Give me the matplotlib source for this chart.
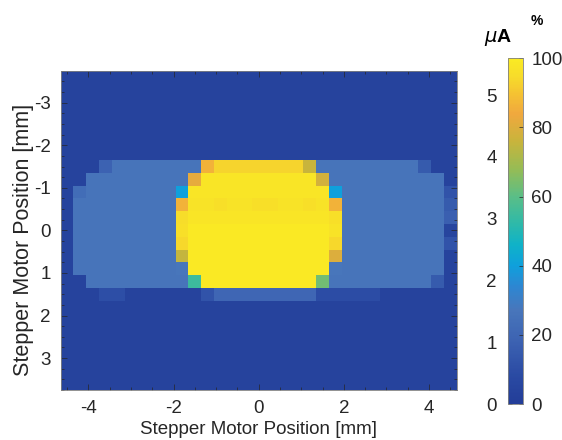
import numpy as np
import matplotlib.pyplot as plt
from matplotlib.colors import LinearSegmentedColormap
from matplotlib.ticker import MultipleLocator

plt.rcParams['font.family'] = ['Liberation Sans', 'DejaVu Sans']
plt.rcParams['axes.unicode_minus'] = False

# stepper motor positions of the pixel centres [mm]
x_pos = [-4.5, -4.2, -3.9, -3.6, -3.3, -3.0, -2.7, -2.4, -2.1, -1.8, -1.5, -1.2, -0.9, -0.6, -0.3, 0.0,
         0.3, 0.6, 0.9, 1.2, 1.5, 1.8, 2.1, 2.4, 2.7, 3.0, 3.3, 3.6, 3.9, 4.2, 4.5]
y_pos = [-3.6, -3.3, -3.0, -2.7, -2.4, -2.1, -1.8, -1.5, -1.2, -0.9, -0.6, -0.3, 0.0,
         0.3, 0.6, 0.9, 1.2, 1.5, 1.8, 2.1, 2.4, 2.7, 3.0, 3.3, 3.6]

# normalised photocurrent per position [%], one row per y position
signal = [
    [4, 4, 4, 4, 4, 4, 4, 4, 4, 4, 4, 4, 4, 4, 4, 4, 4, 4, 4, 4, 4, 4, 4, 4, 4, 4, 4, 4, 4, 4, 4],
    [4, 4, 4, 4, 4, 4, 4, 4, 4, 4, 4, 4, 4, 4, 4, 4, 4, 4, 4, 4, 4, 4, 4, 4, 4, 4, 4, 4, 4, 4, 4],
    [4, 4, 4, 4, 4, 4, 4, 4, 4, 4, 4, 4, 4, 4, 4, 4, 4, 4, 4, 4, 4, 4, 4, 4, 4, 4, 4, 4, 4, 4, 4],
    [4, 4, 4, 4, 4, 4, 4, 4, 4, 4, 4, 4, 4, 4, 4, 4, 4, 4, 4, 4, 4, 4, 4, 4, 4, 4, 4, 4, 4, 4, 4],
    [4, 4, 4, 4, 4, 4, 4, 4, 4, 4, 4, 4, 4, 4, 4, 4, 4, 4, 4, 4, 4, 4, 4, 4, 4, 4, 4, 4, 4, 4, 4],
    [4, 4, 4, 4, 4, 4, 4, 4, 4, 4, 4, 4, 4, 4, 4, 4, 4, 4, 4, 4, 4, 4, 4, 4, 4, 4, 4, 4, 4, 4, 4],
    [4, 4, 4, 4, 4, 4, 4, 4, 4, 4, 4, 4, 4, 4, 4, 4, 4, 4, 4, 4, 4, 4, 4, 4, 4, 4, 4, 4, 4, 4, 4],
    [4, 4, 4, 18, 26, 26, 26, 26, 26, 26, 26, 86, 93, 93, 93, 93, 93, 93, 93, 76, 26, 26, 26, 26, 26, 26, 26, 26, 15, 4, 4],
    [4, 4, 26, 26, 26, 26, 26, 26, 26, 26, 82, 98, 98, 98, 98, 98, 98, 98, 98, 98, 78, 26, 26, 26, 26, 26, 26, 26, 26, 26, 4],
    [4, 23, 26, 26, 26, 26, 26, 26, 26, 40, 98, 98, 98, 98, 98, 98, 98, 98, 98, 98, 98, 40, 26, 26, 26, 26, 26, 26, 26, 26, 12],
    [4, 26, 26, 26, 26, 26, 26, 26, 26, 86, 97, 97, 96, 97, 97, 96, 96, 97, 97, 96, 97, 86, 26, 26, 26, 26, 26, 26, 26, 26, 15],
    [4, 26, 26, 26, 26, 26, 26, 26, 26, 95, 98, 98, 98, 98, 98, 98, 98, 98, 98, 98, 98, 96, 26, 26, 26, 26, 26, 26, 26, 26, 17],
    [4, 26, 26, 26, 26, 26, 26, 26, 26, 96, 99, 99, 99, 99, 99, 99, 99, 99, 99, 99, 99, 97, 26, 26, 26, 26, 26, 26, 26, 26, 5],
    [4, 26, 26, 26, 26, 26, 26, 26, 26, 94, 99, 99, 99, 99, 99, 99, 99, 99, 99, 99, 99, 94, 26, 26, 26, 26, 26, 26, 26, 26, 12],
    [4, 26, 26, 26, 26, 26, 26, 26, 26, 75, 99, 99, 99, 99, 99, 99, 99, 99, 99, 99, 99, 80, 26, 26, 26, 26, 26, 26, 26, 26, 4],
    [4, 26, 26, 26, 26, 26, 26, 26, 26, 27, 99, 99, 99, 99, 99, 99, 99, 99, 99, 99, 99, 27, 26, 26, 26, 26, 26, 26, 26, 26, 4],
    [4, 4, 26, 26, 26, 26, 26, 26, 26, 26, 55, 99, 99, 99, 99, 99, 99, 99, 99, 99, 63, 26, 26, 26, 26, 26, 26, 26, 26, 15, 4],
    [4, 4, 4, 10, 10, 4, 4, 4, 4, 4, 4, 12, 20, 20, 20, 20, 20, 20, 20, 20, 9, 9, 9, 9, 9, 4, 4, 4, 4, 4, 4],
    [4, 4, 4, 4, 4, 4, 4, 4, 4, 4, 4, 4, 4, 4, 4, 4, 4, 4, 4, 4, 4, 4, 4, 4, 4, 4, 4, 4, 4, 4, 4],
    [4, 4, 4, 4, 4, 4, 4, 4, 4, 4, 4, 4, 4, 4, 4, 4, 4, 4, 4, 4, 4, 4, 4, 4, 4, 4, 4, 4, 4, 4, 4],
    [4, 4, 4, 4, 4, 4, 4, 4, 4, 4, 4, 4, 4, 4, 4, 4, 4, 4, 4, 4, 4, 4, 4, 4, 4, 4, 4, 4, 4, 4, 4],
    [4, 4, 4, 4, 4, 4, 4, 4, 4, 4, 4, 4, 4, 4, 4, 4, 4, 4, 4, 4, 4, 4, 4, 4, 4, 4, 4, 4, 4, 4, 4],
    [4, 4, 4, 4, 4, 4, 4, 4, 4, 4, 4, 4, 4, 4, 4, 4, 4, 4, 4, 4, 4, 4, 4, 4, 4, 4, 4, 4, 4, 4, 4],
    [4, 4, 4, 4, 4, 4, 4, 4, 4, 4, 4, 4, 4, 4, 4, 4, 4, 4, 4, 4, 4, 4, 4, 4, 4, 4, 4, 4, 4, 4, 4],
    [4, 4, 4, 4, 4, 4, 4, 4, 4, 4, 4, 4, 4, 4, 4, 4, 4, 4, 4, 4, 4, 4, 4, 4, 4, 4, 4, 4, 4, 4, 4],
]

pct_ticks = [0, 20, 40, 60, 80, 100]
ua_ticks = [0, 1, 2, 3, 4, 5]
ua_max = 5.6  # current at 100 %

# parula-like map
cmap = LinearSegmentedColormap.from_list('parula_ish', [
    (0.00, '#233d98'), (0.08, '#2a4aa3'), (0.18, '#3c62b2'), (0.27, '#4876bb'),
    (0.34, '#2d87d2'), (0.40, '#0fa0dc'), (0.46, '#0fb2c8'), (0.52, '#2db9aa'),
    (0.60, '#5abe87'), (0.68, '#96bc55'), (0.76, '#c8b43c'), (0.84, '#f0a83e'),
    (0.90, '#f5c332'), (0.95, '#f7dc2a'), (1.00, '#faeb23')])

text_col = '#262626'
fs = 13.5

x = np.array(x_pos)
y = np.array(y_pos)
x_edges = np.append(x - 0.15, x[-1] + 0.15)
y_edges = np.append(y - 0.15, y[-1] + 0.15)

fig = plt.figure(figsize=(5.62, 4.40), dpi=100)
ax = fig.add_axes([0.108, 0.1136, 0.7046, 0.7257])
mesh = ax.pcolormesh(x_edges, y_edges, np.array(signal), cmap=cmap, vmin=0, vmax=100)
ax.set_xlim(x_edges[0], x_edges[-1])
ax.set_ylim(y_edges[-1], y_edges[0])

ax.set_xticks([-4, -2, 0, 2, 4])
ax.set_yticks([-3, -2, -1, 0, 1, 2, 3])
ax.xaxis.set_minor_locator(MultipleLocator(0.5))
ax.yaxis.set_minor_locator(MultipleLocator(0.25))
ax.tick_params(which='both', direction='in', top=True, right=True,
               colors=text_col, labelsize=fs, width=0.5)
ax.tick_params(which='major', length=4, pad=7)
ax.tick_params(which='minor', length=2)
for s in ax.spines.values():
    s.set_color('#808080')
    s.set_linewidth(0.6)

ax.set_xlabel('Stepper Motor Position [mm]', fontsize=fs, color=text_col, labelpad=3)
ax.set_ylabel('Stepper Motor Position [mm]', fontsize=15.5, color=text_col)
ax.yaxis.set_label_coords(-0.068, 0.47)

cax = fig.add_axes([0.904, 0.0818, 0.0267, 0.786])
cb = fig.colorbar(mesh, cax=cax, ticks=pct_ticks)
cb.outline.set_edgecolor('#808080')
cb.outline.set_linewidth(0.6)
cax.tick_params(direction='in', length=3, width=0.5, colors=text_col, labelsize=fs, pad=6)

ua_axis = cax.secondary_yaxis('left', functions=(lambda p: p * ua_max / 100,
                                                 lambda u: u * 100 / ua_max))
ua_axis.set_yticks(ua_ticks)
ua_axis.tick_params(direction='in', length=3, width=0.5, colors=text_col, labelsize=fs, pad=8)
ua_axis.spines['left'].set_visible(False)

fig.text(498 / 562, 1 - 37 / 440, r'$\mu$A', fontsize=14, fontweight='bold',
         color='black', ha='center', va='center')
fig.text(537 / 562, 1 - 21 / 440, '%', fontsize=10, fontweight='bold',
         color='black', ha='center', va='center')

fig.savefig('out.png', dpi=100)
